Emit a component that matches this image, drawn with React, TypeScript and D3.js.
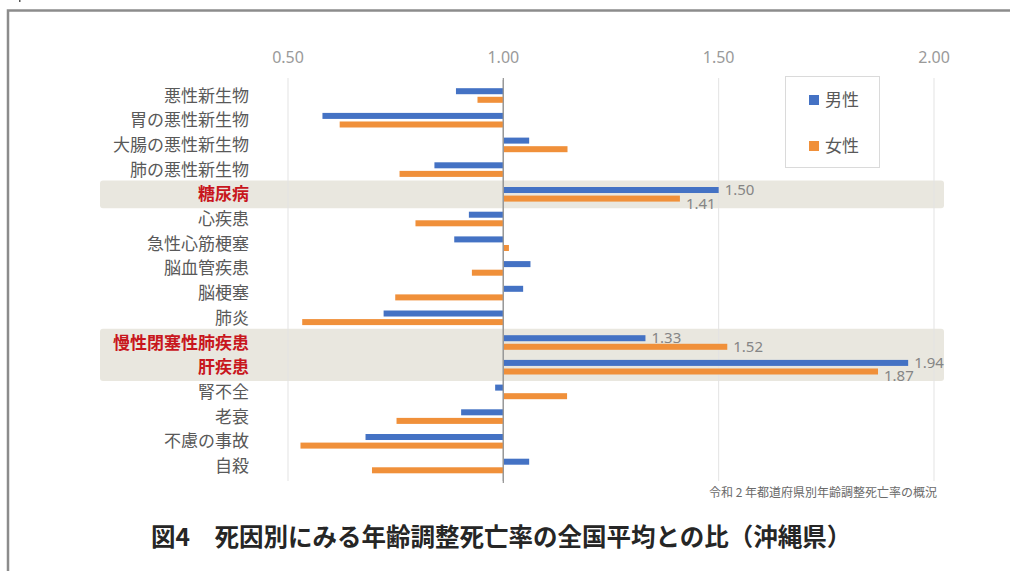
import React from "react";
import * as d3 from "d3";

// 死因別の年齢調整死亡率（全国平均=1.00 に対する比）
const categories = [
  "悪性新生物",
  "胃の悪性新生物",
  "大腸の悪性新生物",
  "肺の悪性新生物",
  "糖尿病",
  "心疾患",
  "急性心筋梗塞",
  "脳血管疾患",
  "脳梗塞",
  "肺炎",
  "慢性閉塞性肺疾患",
  "肝疾患",
  "腎不全",
  "老衰",
  "不慮の事故",
  "自殺",
];

const series = ["男性", "女性"];

const maleValues = [
  0.89, 0.58, 1.06, 0.84, 1.5, 0.92, 0.886, 1.063, 1.046, 0.722, 1.33, 1.94,
  0.981, 0.902, 0.68, 1.06,
];

const femaleValues = [
  0.94, 0.62, 1.149, 0.759, 1.41, 0.796, 1.013, 0.927, 0.749, 0.533, 1.52,
  1.87, 1.148, 0.752, 0.529, 0.695,
];

// 強調表示する死因（背景帯・赤字）
const highlightGroups = [["糖尿病"], ["慢性閉塞性肺疾患", "肝疾患"]];

// 値ラベルを付ける死因
const labeled = ["糖尿病", "慢性閉塞性肺疾患", "肝疾患"];

const tickValues = [0.5, 1.0, 1.5, 2.0];

const sourceNote = "令和 2 年都道府県別年齢調整死亡率の概況";
const title = "図4　死因別にみる年齢調整死亡率の全国平均との比（沖縄県）";

const COLORS: Record<string, string> = { 男性: "#4472c4", 女性: "#f0903a" };
const FONT = "'Noto Sans CJK JP', 'Noto Sans', sans-serif";

export default function App() {
  const width = 1010;
  const height = 571;

  const x = d3.scaleLinear().domain([0.5, 2.0]).range([288, 934]);

  const y = d3
    .scaleBand<string>()
    .domain(categories)
    .range([83.2, 478.4])
    .paddingInner(0)
    .paddingOuter(0);

  const ySub = d3
    .scaleBand<string>()
    .domain(series)
    .range([5, 19.6])
    .paddingInner(0.3)
    .paddingOuter(0);

  const step = y.step();
  const valueOf = (s: string, i: number) =>
    s === "男性" ? maleValues[i] : femaleValues[i];

  const isHighlighted = (c: string) =>
    highlightGroups.some((g) => g.includes(c));

  // 値ラベルの縦方向のずらし（隣のラベルと重ならないように）
  const labelShift = (c: string, s: string) => {
    if (c === "糖尿病" && s === "女性") return 5;
    if (c === "肝疾患" && s === "女性") return 4;
    return 0;
  };

  const fmt = d3.format(".2f");

  return (
    <svg
      width={width}
      height={height}
      viewBox={`0 0 ${width} ${height}`}
      style={{ position: "fixed", left: 0, top: 0, background: "#fff" }}
      fontFamily={FONT}
    >
      <rect x={0} y={0} width={width} height={height} fill="#fff" />

      {/* 枠線 */}
      <path
        d={`M8,${height + 2} V10.5 H${width + 2}`}
        fill="none"
        stroke="#8c8c8c"
        strokeWidth={2.5}
      />
      <rect x={19} y={0} width={1.5} height={2} fill="#555" />

      {/* 強調帯 */}
      {highlightGroups.map((g, gi) => {
        const top = y(g[0])! - 1.5;
        const bottom = y(g[g.length - 1])! + step + 1.5;
        return (
          <rect
            key={gi}
            x={100}
            y={top}
            width={944 - 100}
            height={bottom - top}
            rx={3}
            fill="#e9e7df"
          />
        );
      })}

      {/* 目盛線 */}
      {tickValues.map((t) => (
        <line
          key={t}
          x1={x(t)}
          x2={x(t)}
          y1={78}
          y2={481}
          stroke={t === 1 ? "#9a9a9a" : "#e3e3e3"}
          strokeWidth={t === 1 ? 1.3 : 1}
        />
      ))}

      {/* 目盛ラベル */}
      {tickValues.map((t) => (
        <text
          key={t}
          x={x(t)}
          y={57}
          dy="0.35em"
          textAnchor="middle"
          fontSize={16}
          fill="#9a9a9a"
          fontFamily="'Noto Sans', sans-serif"
        >
          {fmt(t)}
        </text>
      ))}

      {/* 棒 */}
      {categories.map((c, i) =>
        series.map((s) => {
          const v = valueOf(s, i);
          const x0 = Math.min(x(1), x(v));
          const w = Math.abs(x(v) - x(1));
          return (
            <rect
              key={c + s}
              x={x0}
              y={y(c)! + ySub(s)!}
              width={w}
              height={ySub.bandwidth()}
              fill={COLORS[s]}
            />
          );
        })
      )}

      {/* 基準線（1.00）を棒の上に */}
      <line
        x1={x(1)}
        x2={x(1)}
        y1={80}
        y2={483}
        stroke="#9a9a9a"
        strokeWidth={1.3}
      />

      {/* 値ラベル */}
      {categories.map((c, i) =>
        labeled.includes(c)
          ? series.map((s) => {
              const v = valueOf(s, i);
              return (
                <text
                  key={c + s + "lbl"}
                  x={x(v) + 6}
                  y={
                    y(c)! +
                    ySub(s)! +
                    ySub.bandwidth() / 2 +
                    labelShift(c, s)
                  }
                  dy="0.35em"
                  fontSize={15}
                  fill="#858585"
                  fontFamily="'Noto Sans', sans-serif"
                >
                  {fmt(v)}
                </text>
              );
            })
          : null
      )}

      {/* 死因ラベル */}
      {categories.map((c) => {
        const hl = isHighlighted(c);
        return (
          <text
            key={c + "cat"}
            x={249}
            y={y(c)! + step / 2}
            dy="0.35em"
            textAnchor="end"
            fontSize={17}
            fontWeight={hl ? 700 : 400}
            fill={hl ? "#c8161d" : "#595959"}
          >
            {c}
          </text>
        );
      })}

      {/* 凡例 */}
      <rect
        x={785.5}
        y={76.5}
        width={94}
        height={91}
        fill="#fff"
        stroke="#dadada"
        strokeWidth={1}
      />
      {series.map((s, i) => {
        const cy = 100 + i * 46;
        return (
          <g key={s + "leg"}>
            <rect x={809} y={cy - 5} width={10} height={10} fill={COLORS[s]} />
            <text
              x={825}
              y={cy}
              dy="0.35em"
              fontSize={17}
              fill="#595959"
            >
              {s}
            </text>
          </g>
        );
      })}

      {/* 出典 */}
      <text
        x={937}
        y={493}
        dy="0.35em"
        textAnchor="end"
        fontSize={12}
        fill="#6a6a6a"
      >
        {sourceNote}
      </text>

      {/* 表題 */}
      <text
        x={151}
        y={537}
        dy="0.35em"
        fontSize={24.5}
        fontWeight={700}
        fill="#262626"
      >
        {title}
      </text>
    </svg>
  );
}
